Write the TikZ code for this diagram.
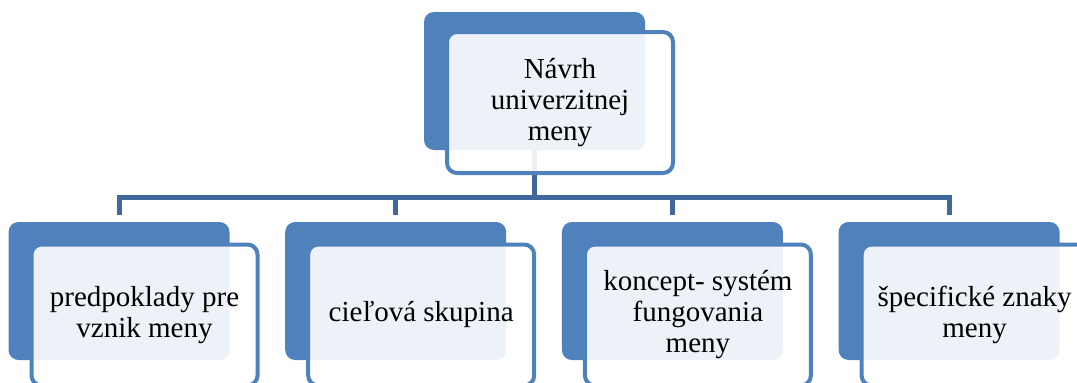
\documentclass[tikz,border=0pt]{standalone}
\usepackage{fontspec}
\setmainfont{Liberation Serif}
\newfontfamily\boxfont{Liberation Serif}
\usetikzlibrary{positioning,backgrounds}
\definecolor{boxblue}{RGB}{79,129,189}
\definecolor{linkblue}{RGB}{64,104,154}
\begin{document}
\begin{tikzpicture}[x=1pt,y=-1pt,
    back box/.style={rectangle,rounded corners=10pt,fill=boxblue,minimum width=221pt,minimum height=138pt,inner sep=0pt},
    front box/.style={rectangle,rounded corners=10pt,draw=boxblue,line width=4pt,fill=white,fill opacity=0.9,text opacity=1,
        minimum width=226pt,minimum height=141pt,align=center,font=\boxfont\fontsize{29}{31}\selectfont},
    link/.style={draw=linkblue,line width=5pt}]
    \useasboundingbox (0,0) rectangle (1077,383);

    \node[back box] (top) at (534.5,81) {};
    \node[front box] (topf) at (560,102.5) {Návrh\\univerzitnej\\meny};

    \node[back box] (c1) at (119,291) {};
    \node[back box] (c2) at (395.7,291) {};
    \node[back box] (c3) at (672.4,291) {};
    \node[back box] (c4) at (949.1,291) {};

    \node[front box] (f1) at (144.5,315) {predpoklady pre\\vznik meny};
    \node[front box] (f2) at (421.2,315) {cieľová skupina};
    \node[front box] (f3) at (697.9,315) {koncept- systém\\fungovania\\meny};
    \node[front box] (f4) at (974.6,315) {špecifické znaky\\meny};

    \coordinate (bar) at (534.5,197.5);
    \begin{scope}[on background layer]
        \foreach \c in {c1,c2,c3,c4}
            \path[link,shorten >=7pt] (top.south) -- (bar) -| (\c.north);
    \end{scope}
\end{tikzpicture}
\end{document}
